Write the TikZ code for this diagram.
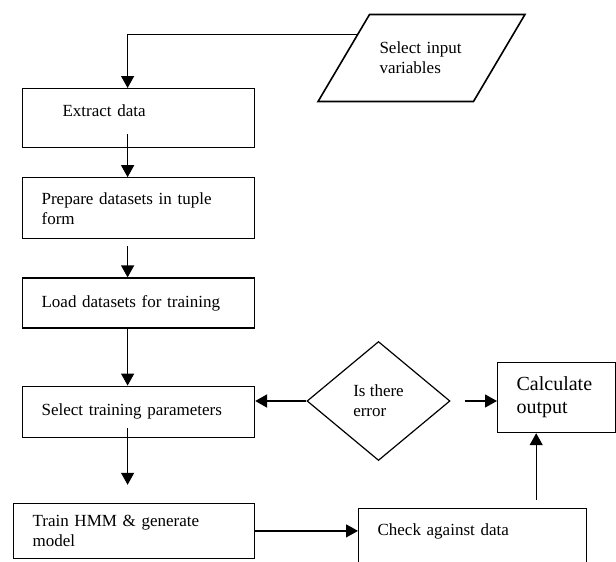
\documentclass[tikz,border=0pt]{standalone}
\usepackage{fontspec}
\setmainfont{Liberation Serif}
\usetikzlibrary{arrows.meta, positioning, shapes.geometric}

\begin{document}
\begin{tikzpicture}[
  x=1pt, y=1pt,
  font=\fontsize{17}{20}\selectfont,
  box/.style={rectangle, draw, line width=1.2pt, align=left,
              inner xsep=19pt, text width=194pt},
  io/.style={trapezium, trapezium left angle=59.4, trapezium right angle=120.6,
             draw, line width=1.6pt, text width=84pt, inner xsep=10pt,
             inner ysep=27.5pt, align=left},
  decision/.style={diamond, draw, line width=1.2pt, minimum width=143pt,
                   minimum height=119pt, inner sep=0pt, align=left},
  flow/.style={-{Triangle[length=12pt,width=13pt]}, line width=1.2pt},
]
\useasboundingbox (0,0) rectangle (616,-562);
\clip (0,0) rectangle (616,-562);

% ── input ────────────────────────────────────────────────────────────────
\node[io] (inp) at (421.5,-58) {Select input\\variables};

% ── main column ──────────────────────────────────────────────────────────
\node[box, anchor=north west, inner ysep=0pt, text height=28pt, text depth=31pt]
  (ext) at (22,-88) {\hspace*{21pt}Extract data};
\node[box, minimum height=61pt, below=29pt of ext] (prep)
  {Prepare datasets in tuple\\form};
\node[box, minimum height=50pt, below=38pt of prep] (load)
  {Load datasets for training};
\node[box, minimum height=51pt, below=57pt of load] (sel)
  {Select training parameters};
\node[box, text width=203pt, minimum height=55pt,
      below=65pt of sel.south east, anchor=north east] (trn)
  {Train HMM \& generate\\model};

\draw[flow] (inp.160) -| ([xshift=-11pt]ext.north);
\draw[flow] ([xshift=-11pt,yshift=14pt]ext.south) -- ([xshift=-11pt]prep.north);
\draw[flow] ([xshift=-11pt,yshift=-7pt]prep.south) -- ([xshift=-11pt]load.north);
\draw[flow] ([xshift=-11pt]load.south) -- ([xshift=-11pt]sel.north);
\draw[flow] ([xshift=-11pt,yshift=10pt]sel.south) -- ([xshift=-11pt,yshift=18pt]sel.south |- trn.north);

% ── check and error loop ─────────────────────────────────────────────────
\node[box, anchor=north west, text width=190pt, inner ysep=0pt,
      text height=27pt, text depth=50pt] (chk) at (358,-508) {Check against data};
\node[decision] (dia) at (378.5,-401) {Is there\\error};
\node[box, anchor=north west, text width=80pt, minimum height=70pt,
      font=\fontsize{20}{23}\selectfont] (calc) at (497,-362) {Calculate\\output};

\draw[flow] (trn.east) -- (trn.east -| chk.west);
\draw[flow, line width=2pt] (dia.west) -- (dia.west -| sel.east);
\draw[flow] ([xshift=14pt]dia.east) -- (dia.east -| calc.west);
\coordinate (up) at ([xshift=-51pt,yshift=8pt]chk.north east);
\draw[flow] (up) -- (up |- calc.south);

\end{tikzpicture}
\end{document}
